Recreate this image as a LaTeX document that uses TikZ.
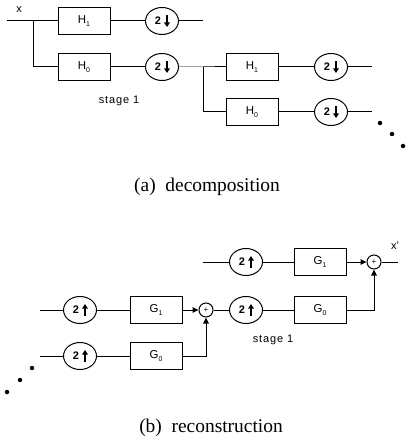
\documentclass[tikz,border=0pt]{standalone}
\usepackage{fontspec}
\setmainfont{Liberation Serif}
\setsansfont{Liberation Sans}
\usetikzlibrary{arrows.meta,calc,shapes.geometric}
\newcommand\sub[1]{\raisebox{-3bp}{\fontsize{7}{7}\selectfont #1}}
\newcommand\sampdown[2]{%
  \node[samp] (#1) at (#2) {};
  \node[lbl] (#1t) at ($(#1.center)+(-4,0)$) {\bfseries 2};
  \draw[fat] ($(#1.center)+(5,-6)$) -- ($(#1.center)+(5,6)$);}
\newcommand\sampup[2]{%
  \node[samp] (#1) at (#2) {};
  \node[lbl] (#1t) at ($(#1.center)+(-4,0)$) {\bfseries 2};
  \draw[fat] ($(#1.center)+(5,6)$) -- ($(#1.center)+(5,-6)$);}
\begin{document}
\begin{tikzpicture}[x=1bp,y=-1bp,
  line width=1bp,
  filt/.style={draw, minimum width=52bp, minimum height=27bp, inner sep=0, font=\sffamily\fontsize{11.5}{11.5}\selectfont},
  samp/.style={draw, ellipse, minimum width=33bp, minimum height=27bp, inner sep=0},
  addr/.style={draw, circle, minimum size=14bp, inner sep=0, font=\sffamily\fontsize{8}{8}\selectfont},
  lbl/.style={inner sep=0, font=\sffamily\fontsize{11}{11}\selectfont},
  stg/.style={inner sep=0, font=\sffamily\fontsize{11}{11}\selectfont\addfontfeatures{LetterSpace=8}},
  tip/.style={-{Triangle[length=6bp,width=5.5bp]}},
  fat/.style={line width=1.8bp,-{Triangle[length=4.5bp,width=5.5bp]}},
  dot/.style={fill, circle, inner sep=0, minimum size=4.5bp},
  captext/.style={inner sep=0, font=\fontsize{19.5}{19.5}\selectfont},
]
\useasboundingbox (0,0) rectangle (407,441);
% ---------- decomposition ----------
\coordinate (xin) at (7,21);
\node[lbl] (xl) at (19,10) {x};
\coordinate (sp1) at (33,21);
\node[filt] (H1a) at (84,21) {H\sub{1}};
\sampdown{D1a}{162,21}
\coordinate (o1) at (203,21);
\node[filt] (H0a) at (84,67) {H\sub{0}};
\sampdown{D0a}{162,67}
\coordinate (sp2) at (203,67);
\node[filt] (H1b) at (252,67) {H\sub{1}};
\sampdown{D1b}{331,67}
\coordinate (o2) at (372,67);
\node[filt] (H0b) at (252,112) {H\sub{0}};
\sampdown{D0b}{331,112}
\coordinate (o3) at (372,112);
\draw (xin) -- (H1a) -- (D1a) -- (o1);
\draw (sp1) |- (H0a);
\draw (H0a) -- (D0a) -- (sp2) -- (H1b) -- (D1b) -- (o2);
\draw (sp2) |- (H0b);
\draw (H0b) -- (D0b) -- (o3);
\node[dot] (da1) at (380,123) {};
\node[dot] (da2) at (392,134) {};
\node[dot] (da3) at (403,146) {};
\node[stg] (st1) at (119,101) {stage 1};
\node[captext] (capa) at (207,187) {(a)\enspace decomposition};
% ---------- reconstruction ----------
\coordinate (r1s) at (203,262);
\sampup{U1b}{246,262}
\node[filt] (G1b) at (320,262) {G\sub{1}};
\node[addr] (A2) at (374,262) {+};
\coordinate (xo) at (398,262);
\node[lbl] (xl2) at (395,246) {x'};
\node[addr] (A1) at (206,310) {+};
\sampup{U0b}{246,310}
\node[filt] (G0b) at (320,310) {G\sub{0}};
\draw (r1s) -- (U1b) -- (G1b);
\draw[tip] (G1b) -- (A2);
\draw (A2) -- (xo);
\draw (A1) -- (U0b) -- (G0b);
\draw[tip] (G0b.east) -| (A2.south);
\coordinate (l1s) at (40,310);
\sampup{U1a}{80,310}
\node[filt] (G1a) at (156,310) {G\sub{1}};
\draw (l1s) -- (U1a) -- (G1a);
\draw[tip] (G1a) -- (A1);
\coordinate (l0s) at (40,356);
\sampup{U0a}{80,356}
\node[filt] (G0a) at (156,356) {G\sub{0}};
\draw (l0s) -- (U0a) -- (G0a);
\draw[tip] (G0a.east) -| (A1.south);
\node[dot] (db1) at (32,368) {};
\node[dot] (db2) at (20,380) {};
\node[dot] (db3) at (7,392) {};
\node[stg] (st2) at (273,340) {stage 1};
\node[captext] (capb) at (211,428) {(b)\enspace reconstruction};
\end{tikzpicture}
\end{document}
